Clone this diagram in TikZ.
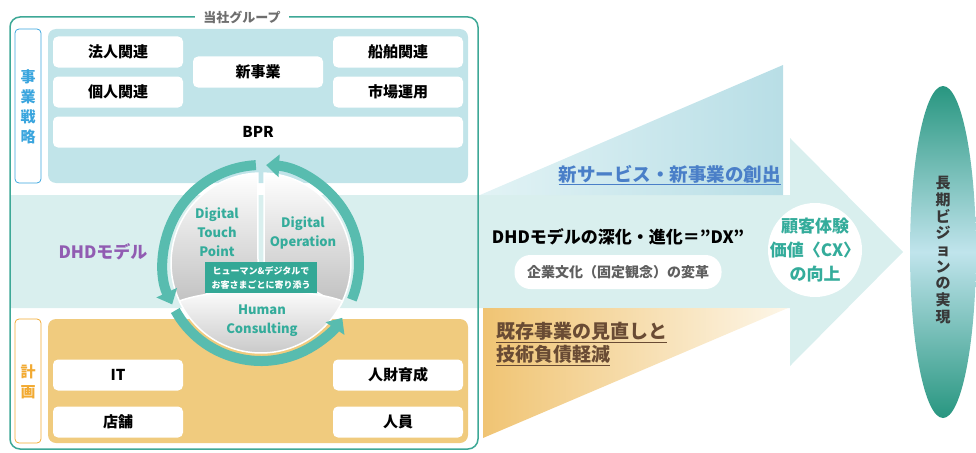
\documentclass[tikz,border=0pt]{standalone}
\usepackage{fontspec}
\setmainfont{Noto Sans CJK JP}
\usetikzlibrary{arrows.meta}

\definecolor{grpline}{RGB}{62,168,150}
\definecolor{bluepanel}{RGB}{193,228,233}
\definecolor{orgpanel}{RGB}{240,203,126}
\definecolor{bandc}{RGB}{217,239,238}
\definecolor{ringc}{RGB}{88,188,175}
\definecolor{tealtxt}{RGB}{52,172,155}
\definecolor{boxteal}{RGB}{52,168,150}
\definecolor{bluelbl}{RGB}{58,165,222}
\definecolor{orglbl}{RGB}{242,170,50}
\definecolor{svcblue}{RGB}{74,127,200}
\definecolor{browntxt}{RGB}{105,75,52}
\definecolor{purpletxt}{RGB}{145,92,178}
\definecolor{titlegray}{RGB}{110,110,110}
\definecolor{graytxt}{RGB}{95,95,95}
\definecolor{wedgeblueL}{RGB}{226,243,245}
\definecolor{wedgeblueR}{RGB}{184,222,230}
\definecolor{wedgeorgL}{RGB}{240,196,115}
\definecolor{wedgeorgR}{RGB}{253,246,232}
\definecolor{ellend}{RGB}{40,150,128}
\definecolor{ellmid}{RGB}{192,228,236}

\tikzset{every picture/.style={line width=0.75pt},
  wbox/.style={fill=white, rounded corners=5, minimum width=130, minimum height=31, font=\fontsize{15}{18}\selectfont\bfseries},
  tate/.style={align=center, inner sep=0, font=\fontsize{15}{20}\selectfont\bfseries},
  sector/.style={draw=white, line width=1.5pt, top color=white, bottom color=black!25},
  ring/.style={draw=ringc, line width=10pt, -{Triangle[length=13pt,width=22pt]}},
  sectxt/.style={align=center, inner sep=0, text=tealtxt, font=\fontsize{13}{19}\selectfont\bfseries}}

\begin{document}
\begin{tikzpicture}[x=1pt,y=1pt,yscale=-1,xscale=1]
	\useasboundingbox (0,0) rectangle (976,452);

	%Shape: Big Arrow
	\fill [bandc] (10,195) -- (790,195) -- (790,138) -- (903,252) -- (790,366) -- (790,308) -- (10,308) -- cycle;
	%Shape: Triangle upper
	\shade [left color=wedgeblueL, right color=wedgeblueR] (480,195) -- (783,65) -- (783,195) -- cycle;
	%Shape: Triangle lower
	\shade [left color=wedgeorgL, right color=wedgeorgR] (483,308) -- (788,308) -- (483,438) -- cycle;

	%Shape: Group frame
	\draw [grpline, line width=1.5pt, rounded corners=10] (10,17) rectangle (478,449);
	\node (grp) [fill=white, inner xsep=8, text=titlegray, font=\fontsize{13}{15}\selectfont\bfseries] at (242,17) {当社グループ};

	%Shape: Strategy panel
	\draw [draw=bluelbl, fill=white, rounded corners=4] (15,29) rectangle (41,183);
	\fill [bluepanel, rounded corners=8] (48,29) rectangle (468,183);
	\node (senryaku) [tate, text=bluelbl] at (28,107) {事\\業\\戦\\略};
	\node (houjin) [wbox] at (118,52) {法人関連};
	\node (kojin) [wbox] at (118,92) {個人関連};
	\node (shinjigyo) [wbox] at (258,72) {新事業};
	\node (senpaku) [wbox] at (398,52) {船舶関連};
	\node (shijo) [wbox] at (398,92) {市場運用};
	\node (bpr) [wbox, minimum width=410] at (258,132) {BPR};

	%Shape: Plan panel
	\draw [draw=orglbl, fill=white, rounded corners=4] (15,319) rectangle (41,443);
	\fill [orgpanel, rounded corners=8] (48,319) rectangle (468,443);
	\node (keikaku) [tate, text=orglbl] at (28,382) {計\\画};
	\node (it) [wbox] at (118,375) {IT};
	\node (tenpo) [wbox] at (118,422) {店舗};
	\node (jinzai) [wbox] at (398,375) {人財育成};
	\node (jinin) [wbox] at (398,422) {人員};

	% Text Node
	\node (dhd) [inner sep=0, text=purpletxt, font=\fontsize{17}{20}\selectfont\bfseries] at (103,252) {DHDモデル};

	%Shape: Sectors
	\coordinate (ctr) at (261,263);
	\shade [sector] (258,263) -- (183.1,308) arc[start angle=150, end angle=268, radius=90] -- cycle;
	\shade [sector] (264,263) -- (264.1,173.1) arc[start angle=-88, end angle=28, radius=90] -- cycle;
	\shade [sector] (179.4,301) arc[start angle=155, end angle=25, radius=90] .. controls (305,287) and (217,287) .. (179.4,301) -- cycle;

	%Shape: Ring arrows
	\draw [ring] (ctr) ++(22:98) arc[start angle=22, end angle=-87, radius=98];
	\draw [ring] (ctr) ++(-93:98) arc[start angle=-93, end angle=-205, radius=98];
	\draw [ring] (ctr) ++(151:98) arc[start angle=151, end angle=34, radius=98];

	% Text Node
	\node (yorisou) [fill=boxteal, text=white, minimum width=112, minimum height=31, inner sep=1, align=center, font=\fontsize{9}{14}\selectfont\bfseries] at (261,277.5) {ヒューマン\&デジタルで\\お客さまごとに寄り添う};
	\node (dtp) [sectxt] at (217,232) {Digital\\Touch\\Point};
	\node (dop) [sectxt] at (303,233) {Digital\\Operation};
	\node (hcs) [sectxt] at (262,321) {Human\\Consulting};

	% Text Node
	\node (sozo) [anchor=east, inner sep=0, text=svcblue, font=\fontsize{18.5}{22}\selectfont\bfseries] at (781,175) {\underline{新サービス・新事業の創出}};
	\node (dx) [inner sep=0, font=\fontsize{17}{20}\selectfont\bfseries] at (618,237) {DHDモデルの深化・進化＝”DX”};
	\node (henkaku) [fill=white, rounded corners=16, minimum width=207, minimum height=34, text=graytxt, font=\fontsize{14}{16}\selectfont\bfseries] at (618,272) {企業文化（固定観念）の変革};
	\node (kison) [anchor=west, inner sep=0, align=left, text=browntxt, font=\fontsize{19}{23}\selectfont\bfseries] at (496,344) {\underline{既存事業の見直しと}\\\underline{技術負債軽減}};

	%Shape: Circle
	\node (cxc) [circle, fill=white, minimum size=94] at (815,250) {};
	\node (cx) [align=center, inner sep=0, text=tealtxt, font=\fontsize{17}{24}\selectfont\bfseries] at (cxc) {顧客体験\\価値〈CX〉\\の向上};

	%Shape: Ellipse
	\shade [top color=ellend, bottom color=ellend, middle color=ellmid] (943,252) ellipse [x radius=33, y radius=166];
	\node (vision) [align=center, inner sep=0, text=black!78, font=\fontsize{15}{16.7}\selectfont\bfseries] at (943,250) {長\\期\\ビ\\ジ\\ョ\\ン\\の\\実\\現};

\end{tikzpicture}
\end{document}
